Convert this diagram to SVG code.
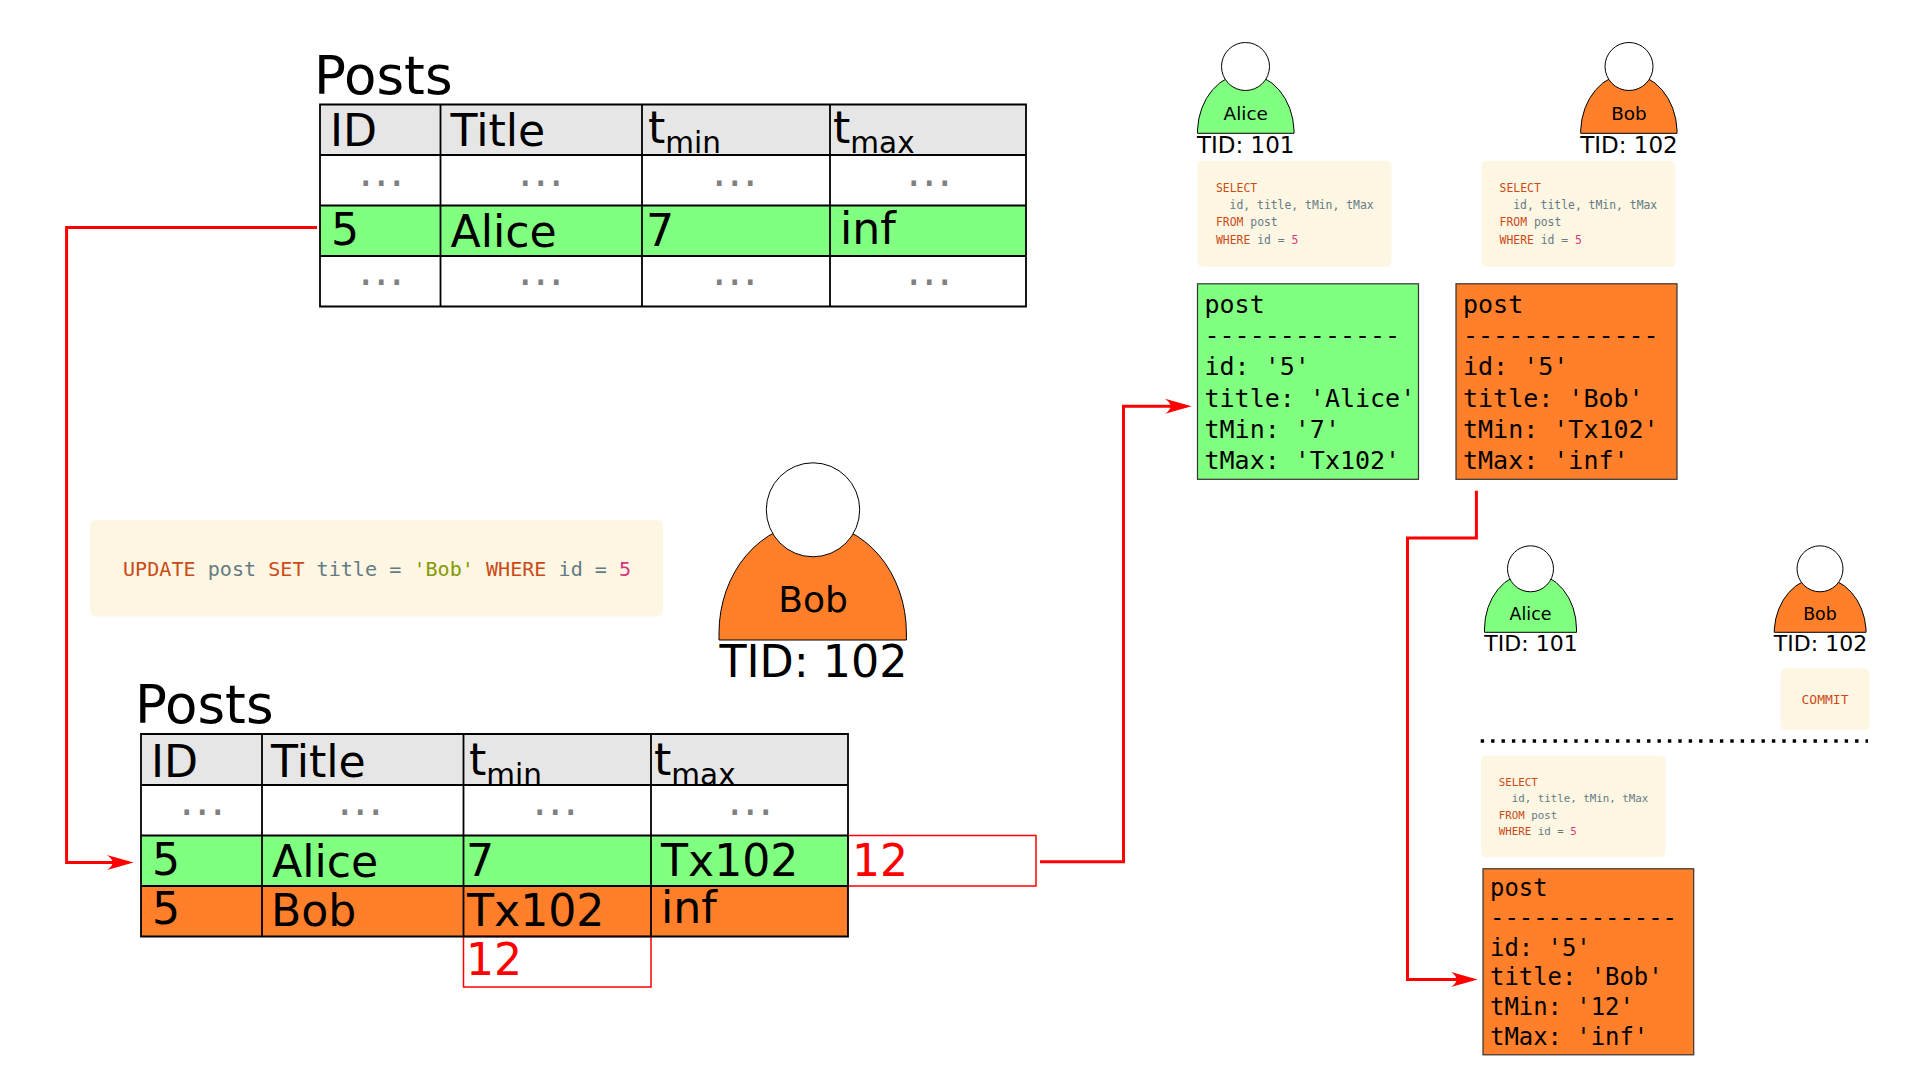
<svg xmlns="http://www.w3.org/2000/svg" width="1920" height="1080" viewBox="0 0 1920 1080">
<style>
text{font-family:"DejaVu Sans",sans-serif;fill:#000}
.m,.m tspan{font-family:"DejaVu Sans Mono",monospace}
.t{font-size:44.2px}.ti{font-size:53px}.s{font-size:29.5px}
.d{font-size:44px;fill:#808080;letter-spacing:1.5px;text-anchor:middle}
.r{fill:#f00}
.grid{fill:none;stroke:#000;stroke-width:1.8}
.redbox{fill:#fff;stroke:#f00;stroke-width:1.5}
.hd{fill:#e6e6e6}.g{fill:#80ff80}.o{fill:#ff7f2a}
.body{stroke:#000;stroke-width:1}
.head{fill:#fff;stroke:#000;stroke-width:1}
.code{fill:#fdf6e3}
.k{fill:#cb4b16}.n{fill:#657b83}.str{fill:#859900}.v{fill:#d33682}
.a{text-anchor:middle}
.post{stroke:#333;stroke-width:1.2}
.conn{fill:none;stroke:#f00;stroke-width:3;marker-end:url(#arr)}
</style>
<defs>
<marker id="arr" markerUnits="userSpaceOnUse" markerWidth="30" markerHeight="18" viewBox="0 0 30 18" refX="20" refY="9" orient="auto">
<path d="M0 1.5L26.6 9L0 16.5Q11 9 0 1.5Z" fill="#f00"/>
</marker>
</defs>

<g id="table-top">
<text class="ti" x="314" y="94">Posts</text>
<rect class="hd" x="320" y="104.5" width="706" height="50.5"/>
<rect class="g" x="320" y="205.5" width="706" height="50.5"/>
<path class="grid" d="M320 104.5H1026V306.5H320ZM320 155H1026M320 205.5H1026M320 256H1026M440.5 104.5V306.5M642 104.5V306.5M830 104.5V306.5"/>
<text class="t" x="330" y="146">ID</text>
<text class="t" x="450.5" y="146">Title</text>
<text class="t" x="648" y="143">t<tspan class="s" dy="10">min</tspan></text>
<text class="t" x="833" y="143">t<tspan class="s" dy="10">max</tspan></text>
<text class="d" x="382" y="186">...</text><text class="d" x="541.5" y="186">...</text><text class="d" x="735.5" y="186">...</text><text class="d" x="930" y="186">...</text>
<text class="t" x="331" y="245">5</text>
<text class="t" x="450.5" y="247">Alice</text>
<text class="t" x="646" y="246">7</text>
<text class="t" x="840" y="244">inf</text>
<text class="d" x="382" y="285">...</text><text class="d" x="541.5" y="285">...</text><text class="d" x="735.5" y="285">...</text><text class="d" x="930" y="285">...</text>
</g>

<g id="update-code">
<rect class="code" x="90" y="520" width="573" height="96.5" rx="6"/>
<text class="m" x="123" y="575.5" font-size="20.1" xml:space="preserve"><tspan class="k">UPDATE</tspan><tspan class="n"> post </tspan><tspan class="k">SET</tspan><tspan class="n"> title = </tspan><tspan class="str">'Bob'</tspan><tspan class="n"> </tspan><tspan class="k">WHERE</tspan><tspan class="n"> id = </tspan><tspan class="v">5</tspan></text>
</g>

<g id="person-bob-large">
<path class="body o" d="M719 640V633A93.7 110 0 0 1 906.4 633V640Z"/>
<ellipse class="head" cx="813" cy="509.8" rx="46.7" ry="47"/>
<text class="a" x="813" y="612" font-size="36">Bob</text>
<text class="a" x="813.5" y="677" font-size="44.4">TID: 102</text>
</g>

<g id="table-bottom">
<text class="ti" x="135" y="723.3">Posts</text>
<rect class="hd" x="141" y="734" width="707" height="51"/>
<rect class="g" x="141" y="835.5" width="707" height="50.5"/>
<rect class="o" x="141" y="886" width="707" height="50.5"/>
<rect class="redbox" x="848" y="835.5" width="188" height="50.5"/>
<rect class="redbox" x="463.5" y="936.5" width="187.5" height="50.5"/>
<path class="grid" d="M141 734H848V936.5H141ZM141 785H848M141 835.5H848M141 886H848M262 734V936.5M463.5 734V936.5M651 734V936.5"/>
<text class="t" x="151" y="776.5">ID</text>
<text class="t" x="271" y="776.5">Title</text>
<text class="t" x="469" y="775">t<tspan class="s" dy="10">min</tspan></text>
<text class="t" x="654" y="775">t<tspan class="s" dy="10">max</tspan></text>
<text class="d" x="203" y="815">...</text><text class="d" x="361" y="815">...</text><text class="d" x="556" y="815">...</text><text class="d" x="751" y="815">...</text>
<text class="t" x="152" y="875">5</text>
<text class="t" x="272" y="877">Alice</text>
<text class="t" x="466" y="875.7">7</text>
<text class="t" x="661" y="875.5">Tx102</text>
<text class="t r" x="852" y="875.5">12</text>
<text class="t" x="152" y="924.3">5</text>
<text class="t" x="271" y="926">Bob</text>
<text class="t" x="467" y="925.8">Tx102</text>
<text class="t" x="661" y="922.7">inf</text>
<text class="t r" x="466" y="975">12</text>
</g>

<g id="person-alice-1">
<path class="body g" d="M1197.5 133.3V130A48.3 59 0 0 1 1294 130V133.3Z"/>
<circle class="head" cx="1245.5" cy="66.5" r="24"/>
<text class="a" x="1245.7" y="120" font-size="18.4">Alice</text>
<text class="a" x="1245.7" y="152.7" font-size="23">TID: 101</text>
</g>
<g id="person-bob-1">
<path class="body o" d="M1580.7 133.3V130A48.2 59 0 0 1 1677 130V133.3Z"/>
<circle class="head" cx="1629" cy="66.5" r="24"/>
<text class="a" x="1629" y="120" font-size="18.4">Bob</text>
<text class="a" x="1629" y="152.7" font-size="23">TID: 102</text>
</g>

<g id="select-alice" class="m" font-size="11.4">
<rect class="code" x="1197.5" y="160.7" width="194" height="106" rx="5"/>
<text x="1216" y="191.7" class="m k">SELECT</text>
<text x="1229.6" y="209" class="m n">id, title, tMin, tMax</text>
<text x="1216" y="226.3" class="m"><tspan class="k">FROM</tspan><tspan class="n"> post</tspan></text>
<text x="1216" y="243.5" class="m"><tspan class="k">WHERE</tspan><tspan class="n"> id = </tspan><tspan class="v">5</tspan></text>
</g>
<g id="select-bob" class="m" font-size="11.4">
<rect class="code" x="1481.4" y="160.7" width="194" height="106" rx="5"/>
<text x="1499.6" y="191.7" class="m k">SELECT</text>
<text x="1513.2" y="209" class="m n">id, title, tMin, tMax</text>
<text x="1499.6" y="226.3" class="m"><tspan class="k">FROM</tspan><tspan class="n"> post</tspan></text>
<text x="1499.6" y="243.5" class="m"><tspan class="k">WHERE</tspan><tspan class="n"> id = </tspan><tspan class="v">5</tspan></text>
</g>

<g id="post-alice" class="m" font-size="25">
<rect class="g post" x="1197.5" y="283.8" width="221" height="195.5"/>
<text class="m" x="1204.5" y="312.5">post</text>
<text class="m" x="1204.5" y="343.7">-------------</text>
<text class="m" x="1204.5" y="375">id: '5'</text>
<text class="m" x="1204.5" y="406.5">title: 'Alice'</text>
<text class="m" x="1204.5" y="437.7">tMin: '7'</text>
<text class="m" x="1204.5" y="468.9">tMax: 'Tx102'</text>
</g>
<g id="post-bob" class="m" font-size="25">
<rect class="o post" x="1456" y="283.8" width="221" height="195.5"/>
<text class="m" x="1463" y="312.5">post</text>
<text class="m" x="1463" y="343.7">-------------</text>
<text class="m" x="1463" y="375">id: '5'</text>
<text class="m" x="1463" y="406.5">title: 'Bob'</text>
<text class="m" x="1463" y="437.7">tMin: 'Tx102'</text>
<text class="m" x="1463" y="468.9">tMax: 'inf'</text>
</g>

<g id="person-alice-2">
<path class="body g" d="M1484.5 632.3V629A46 56 0 0 1 1576.5 629V632.3Z"/>
<circle class="head" cx="1530.5" cy="568.8" r="23"/>
<text class="a" x="1530.5" y="620" font-size="17.4">Alice</text>
<text class="a" x="1531" y="651" font-size="22">TID: 101</text>
</g>
<g id="person-bob-2">
<path class="body o" d="M1774.3 632.3V629A46 56 0 0 1 1866 629V632.3Z"/>
<circle class="head" cx="1820" cy="568.8" r="23"/>
<text class="a" x="1820" y="620" font-size="17.4">Bob</text>
<text class="a" x="1820.5" y="651" font-size="22">TID: 102</text>
</g>

<g id="commit-code">
<rect class="code" x="1780.5" y="668.3" width="89.2" height="61.7" rx="5"/>
<text class="m k" x="1801.5" y="704" font-size="13">COMMIT</text>
</g>

<path id="separator" d="M1480.7 741H1868" fill="none" stroke="#000" stroke-width="3.4" stroke-dasharray="3.4 7"/>

<g id="select-after" class="m" font-size="10.8">
<rect class="code" x="1481" y="755.5" width="184.5" height="101.5" rx="5"/>
<text x="1498.8" y="786" class="m k">SELECT</text>
<text x="1511.7" y="802.3" class="m n">id, title, tMin, tMax</text>
<text x="1498.8" y="818.7" class="m"><tspan class="k">FROM</tspan><tspan class="n"> post</tspan></text>
<text x="1498.8" y="835" class="m"><tspan class="k">WHERE</tspan><tspan class="n"> id = </tspan><tspan class="v">5</tspan></text>
</g>

<g id="post-final" class="m" font-size="23.9">
<rect class="o post" x="1483" y="868.8" width="210.7" height="186"/>
<text class="m" x="1490" y="896.4">post</text>
<text class="m" x="1490" y="926">-------------</text>
<text class="m" x="1490" y="955.7">id: '5'</text>
<text class="m" x="1490" y="985.3">title: 'Bob'</text>
<text class="m" x="1490" y="1015">tMin: '12'</text>
<text class="m" x="1490" y="1044.8">tMax: 'inf'</text>
</g>

<g id="connectors">
<path class="conn" d="M317 227.5H66.6V862.5H127"/>
<path class="conn" d="M1040 861.8H1123.5V406.3H1185"/>
<path class="conn" d="M1476.4 490.7V538H1407.5V979.6H1471"/>
</g>
</svg>
